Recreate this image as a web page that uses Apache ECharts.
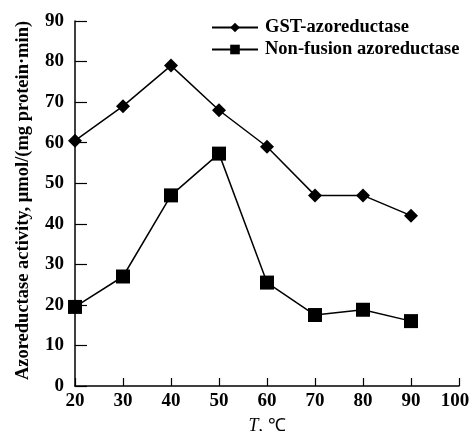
<!DOCTYPE html>
<html>
<head>
<meta charset="utf-8">
<script src="https://cdn.jsdelivr.net/npm/echarts@6/dist/echarts.min.js"></script>
<style>html,body{margin:0;padding:0;background:#fff}#c{width:469px;height:431px}</style>
</head>
<body>
<div id="c"></div>
<script>
// Temperature (°C) and azoreductase activity for the two enzyme forms
const temps = [20, 30, 40, 50, 60, 70, 80, 90];
const gstActivity = [60.5, 69, 79, 68, 59, 47, 47, 42];
const nonFusionActivity = [19.5, 27, 47, 57.3, 25.5, 17.5, 18.8, 16];
const seriesNames = ['GST-azoreductase', 'Non-fusion azoreductase'];

const font = '"Liberation Serif", "Times New Roman", serif';
const pair = (xs, ys) => xs.map((x, i) => [x, ys[i]]);

const chart = echarts.init(document.getElementById('c'));
chart.setOption({
  animation: false,
  grid: { left: 75, right: 10, top: 21, bottom: 45, containLabel: false, outerBoundsMode: 'none' },
  legend: {
    left: 206, top: 13, orient: 'vertical', itemGap: 3,
    itemWidth: 46, itemHeight: 12,
    textStyle: { fontFamily: font, fontWeight: 'bold', fontSize: 18.5, color: '#000', padding: [0, 0, 0, 2] },
    data: seriesNames
  },
  xAxis: {
    type: 'value', min: 20, max: 100, interval: 10,
    name: '{i|T}{n|, ℃}', nameLocation: 'middle', nameGap: 31,
    nameTextStyle: { rich: {
      i: { fontFamily: font, fontStyle: 'italic', fontSize: 18, color: '#000' },
      n: { fontFamily: font, fontSize: 18, color: '#000' }
    } },
    axisLine: { lineStyle: { color: '#000', width: 1.5 } },
    axisTick: { inside: true, length: 8, lineStyle: { color: '#000', width: 1.2 } },
    axisLabel: {
      fontFamily: font, fontWeight: 'bold', fontSize: 19, color: '#000', margin: 6,
      // keep the last label inside the canvas
      formatter: v => (v === 100 ? '{e|' + v + '}' : String(v)),
      rich: { e: { fontFamily: font, fontWeight: 'bold', fontSize: 19, color: '#000', padding: [0, 8, 0, 0] } }
    },
    splitLine: { show: false }
  },
  yAxis: {
    type: 'value', min: 0, max: 90, interval: 10,
    name: 'Azoreductase activity, μmol/(mg protein·min)', nameLocation: 'middle', nameGap: 42,
    nameTextStyle: { fontFamily: font, fontWeight: 'bold', fontSize: 18.5, color: '#000', padding: [0, 0, 0, 6] },
    axisLine: { show: true, lineStyle: { color: '#000', width: 1.5 } },
    axisTick: { show: true, inside: true, length: 12, lineStyle: { color: '#000', width: 1.2 } },
    axisLabel: { fontFamily: font, fontWeight: 'bold', fontSize: 19, color: '#000', margin: 11 },
    splitLine: { show: false }
  },
  series: [
    {
      name: seriesNames[0], type: 'line', data: pair(temps, gstActivity),
      symbol: 'diamond', symbolSize: 14,
      lineStyle: { color: '#000', width: 1.5 }, itemStyle: { color: '#000' }
    },
    {
      name: seriesNames[1], type: 'line', data: pair(temps, nonFusionActivity),
      symbol: 'rect', symbolSize: 14,
      lineStyle: { color: '#000', width: 1.5 }, itemStyle: { color: '#000' }
    }
  ]
});
</script>
</body>
</html>
